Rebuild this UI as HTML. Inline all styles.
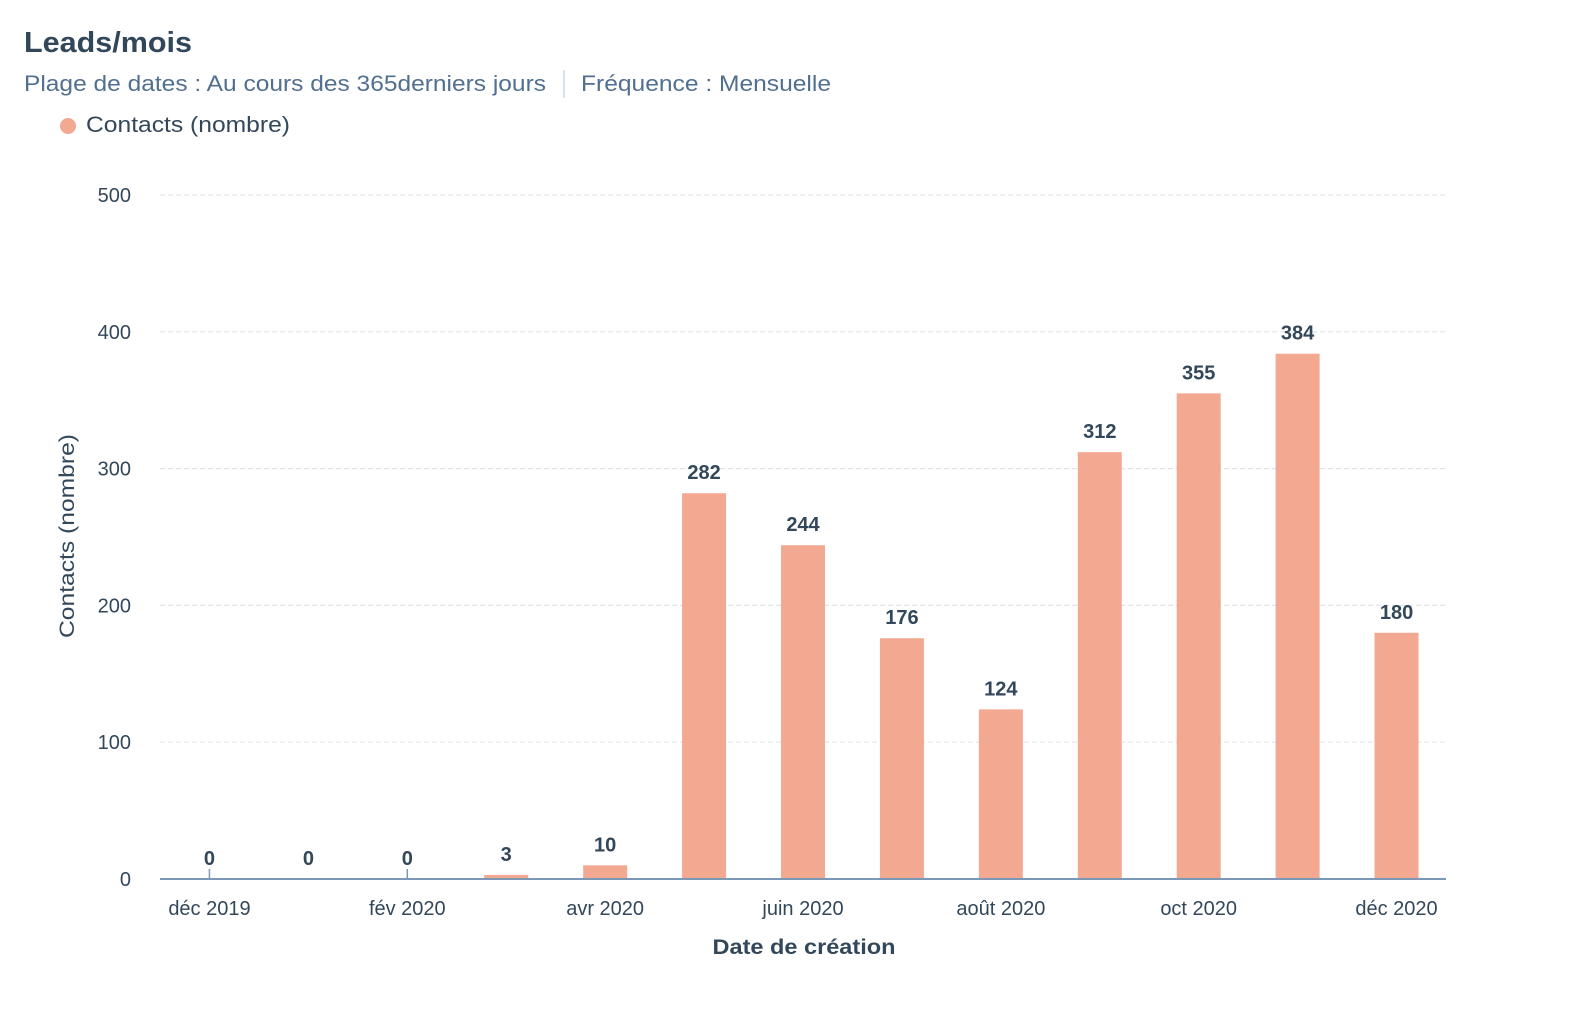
<!DOCTYPE html>
<html><head><meta charset="utf-8">
<style>
html,body{margin:0;padding:0;background:#fff;width:1572px;height:1012px;overflow:hidden}
svg text{font-family:"Liberation Sans",sans-serif}
</style></head>
<body>
<svg id="chart" width="1572" height="1012" xmlns="http://www.w3.org/2000/svg">
  <text x="24" y="52" font-size="29" font-weight="bold" fill="#33475b" textLength="168" lengthAdjust="spacingAndGlyphs">Leads/mois</text>
  <text x="24" y="91" font-size="22" fill="#516f90" textLength="522" lengthAdjust="spacingAndGlyphs">Plage de dates : Au cours des 365derniers jours</text>
  <line x1="564" y1="70" x2="564" y2="98" stroke="#cbd6e2" stroke-width="1.5"/>
  <text x="581" y="91" font-size="22" fill="#516f90" textLength="250" lengthAdjust="spacingAndGlyphs">Fréquence : Mensuelle</text>
  <circle cx="68" cy="126" r="8" fill="#f2a891"/>
  <text x="86" y="132" font-size="22" fill="#33475b" textLength="204" lengthAdjust="spacingAndGlyphs">Contacts (nombre)</text>
  <text transform="translate(74,536) rotate(-90)" text-anchor="middle" font-size="21" fill="#33475b" textLength="204" lengthAdjust="spacingAndGlyphs">Contacts (nombre)</text>
  <text x="804" y="954" text-anchor="middle" font-size="21" font-weight="bold" fill="#33475b" textLength="183" lengthAdjust="spacingAndGlyphs">Date de création</text>
  <g id="grid"></g>
  <g id="bars"></g>
  <g id="xlabels"></g>
</svg>
<script>
const categories = ["déc 2019","jan 2020","fév 2020","mars 2020","avr 2020","mai 2020","juin 2020","juil 2020","août 2020","sept 2020","oct 2020","nov 2020","déc 2020"];
const contacts = [0,0,0,3,10,282,244,176,124,312,355,384,180];
const yTicks = [0,100,200,300,400,500];
const labelEvery = 2;

const NS = "http://www.w3.org/2000/svg";
const x0 = 160, x1 = 1446, yZero = 879, yTop = 195, yMax = 500;
const step = (x1 - x0) / categories.length;
const barW = 44;
function xScale(i){ return x0 + step * (i + 0.5); }
function yScale(v){ return yZero - (v / yMax) * (yZero - yTop); }
function mk(tag, attrs, parent){ const e=document.createElementNS(NS,tag); for(const k in attrs) e.setAttribute(k,attrs[k]); parent.appendChild(e); return e; }

const grid = document.getElementById("grid");
yTicks.forEach(t=>{
  const y = yScale(t);
  if (t !== 0) {
    const l = mk("line",{x1:x0,x2:x1,y1:y,y2:y,stroke:"#dfe3eb","stroke-width":1.2,"stroke-dasharray":"5,3"},grid);
    
    
  }
  const tx = mk("text",{x:131,y:y+7,"text-anchor":"end","font-size":20,fill:"#33475b"},grid);
  
  
  tx.textContent = t;
});

const bars = document.getElementById("bars");
contacts.forEach((v,i)=>{
  const cx = xScale(i), y = yScale(v);
  if (i % labelEvery === 0) {
    const tk = mk("line",{x1:cx,x2:cx,y1:yZero-10,y2:yZero,stroke:"#7c98b6","stroke-width":1.5},bars);
    
    
  }
  const r = mk("rect",{x:cx-barW/2,y:y,width:barW,height:yZero-y,fill:"#f2a891"},bars);
  
  
  const lab = mk("text",{x:cx,y:y-14,"text-anchor":"middle","font-size":20,"font-weight":"bold",fill:"#33475b"},bars);
  
  
  lab.textContent = v;
});
const axis = mk("line",{x1:x0,x2:x1,y1:yZero,y2:yZero,stroke:"#7c98b6","stroke-width":2},bars);



const xl = document.getElementById("xlabels");
categories.forEach((c,i)=>{
  if (i % labelEvery !== 0) return;
  const t = mk("text",{x:xScale(i),y:915,"text-anchor":"middle","font-size":20,fill:"#33475b"},xl);
  
  
  t.textContent = c;
});
</script>
</body></html>
